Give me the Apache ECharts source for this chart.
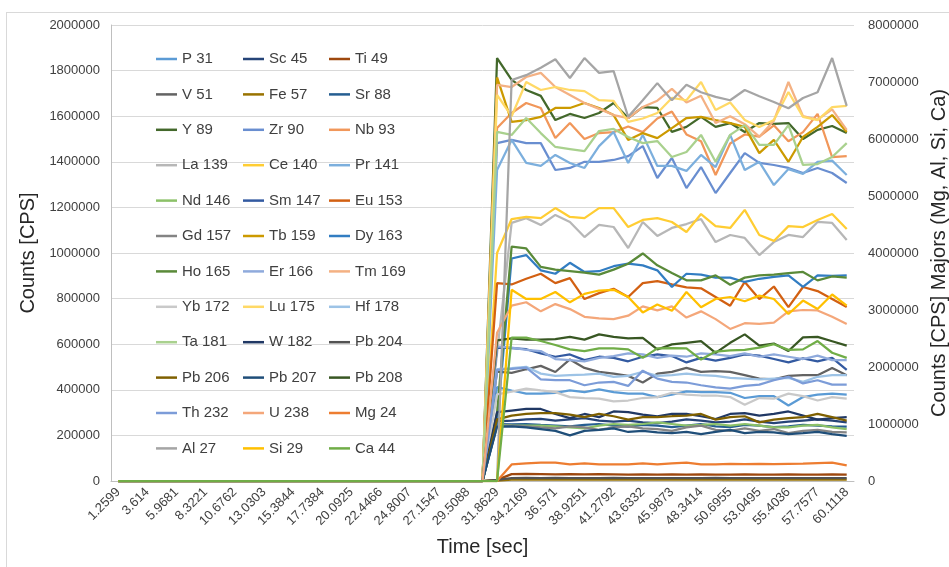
<!DOCTYPE html>
<html>
<head>
<meta charset="utf-8">
<title>Counts vs time</title>
<script src="https://cdn.jsdelivr.net/npm/echarts@6/dist/echarts.min.js"></script>
<style>
  html, body { margin: 0; padding: 0; background: #fff; }
  #wrap { position: relative; width: 949px; height: 567px; }
  #frame { position: absolute; left: 6px; top: 12px; right: -2px; bottom: -2px; border: 1px solid #d9d9d9; }
  #chart { position: absolute; left: 0; top: 0; width: 949px; height: 567px; }
</style>
</head>
<body>
<div id="wrap">
  <div id="frame"></div>
  <div id="chart"></div>
</div>
<script>
// time stamps (sec), one per acquisition
const times = ['1.2599','2.4369','3.614','4.791','5.9681','7.1451','8.3221','9.4992','10.6762','11.8532',
  '13.0303','14.2073','15.3844','16.5614','17.7384','18.9155','20.0925','21.2695','22.4466','23.6236',
  '24.8007','25.9777','27.1547','28.3318','29.5088','30.6858','31.8629','33.0399','34.2169','35.394',
  '36.571','37.7481','38.9251','40.1022','41.2792','42.4562','43.6332','44.8103','45.9873','47.1644',
  '48.3414','49.5185','50.6955','51.8725','53.0495','54.2266','55.4036','56.5807','57.7577','58.9348','60.1118']

// counts per isotope (CPS); first 26 points are gas blank
const p31 = [0,0,0,0,0,0,0,0,0,0,0,0,0,0,0,0,0,0,0,0,0,0,0,0,0,0,
  412000,397000,383000,383000,387000,397000,390000,402000,390000,383000,383000,368000,379000,393000,390000,390000,387000,364000,372000,372000,331000,368000,379000,383000,379000]
const sc45 = [0,0,0,0,0,0,0,0,0,0,0,0,0,0,0,0,0,0,0,0,0,0,0,0,0,0,
  262000,265000,270000,272000,265000,270000,276000,265000,260000,265000,257000,254000,260000,270000,265000,257000,260000,270000,260000,254000,260000,265000,270000,265000,257000]
const ti49 = [0,0,0,0,0,0,0,0,0,0,0,0,0,0,0,0,0,0,0,0,0,0,0,0,0,0,
  5000,30000,31000,30000,29000,30000,29000,30000,29000,28000,29000,28000,29000,28000,29000,28000,28000,29000,28000,28000,29000,28000,28000,29000,28000]
const v51 = [0,0,0,0,0,0,0,0,0,0,0,0,0,0,0,0,0,0,0,0,0,0,0,0,0,0,
  480000,474000,490000,505000,478000,533000,496000,479000,471000,461000,432000,471000,479000,496000,479000,482000,479000,464000,449000,446000,461000,464000,464000,496000,464000]
const fe57 = [0,0,0,0,0,0,0,0,0,0,0,0,0,0,0,0,0,0,0,0,0,0,0,0,0,0,
  2000,6000,6500,6000,6200,6000,5800,6100,6000,5900,6000,6200,6000,5800,6000,6100,5900,6000,6000,5800,6100,6000,5900,6000,5800]
const sr88 = [0,0,0,0,0,0,0,0,0,0,0,0,0,0,0,0,0,0,0,0,0,0,0,0,0,0,
  250000,248000,250000,246000,243000,240000,246000,250000,243000,238000,246000,243000,236000,243000,250000,240000,236000,246000,243000,236000,240000,246000,243000,240000,238000]
const y89 = [0,0,0,0,0,0,0,0,0,0,0,0,0,0,0,0,0,0,0,0,0,0,0,0,0,0,
  1855000,1759000,1715000,1689000,1583000,1610000,1592000,1614000,1658000,1592000,1640000,1636000,1531000,1553000,1597000,1553000,1570000,1531000,1570000,1566000,1570000,1500000,1540000,1557000,1526000]
const zr90 = [0,0,0,0,0,0,0,0,0,0,0,0,0,0,0,0,0,0,0,0,0,0,0,0,0,0,
  1482000,1496000,1482000,1482000,1364000,1373000,1400000,1400000,1408000,1425000,1469000,1329000,1417000,1285000,1377000,1263000,1351000,1438000,1395000,1386000,1373000,1351000,1373000,1351000,1307000]
const nb93 = [0,0,0,0,0,0,0,0,0,0,0,0,0,0,0,0,0,0,0,0,0,0,0,0,0,0,
  1548000,1614000,1658000,1636000,1504000,1570000,1500000,1526000,1530000,1555000,1530000,1590000,1620000,1520000,1490000,1342000,1480000,1520000,1510000,1560000,1490000,1530000,1610000,1420000,1425000]
const la139 = [0,0,0,0,0,0,0,0,0,0,0,0,0,0,0,0,0,0,0,0,0,0,0,0,0,0,
  560000,1132000,1153000,1123000,1167000,1136000,1070000,1123000,1114000,1022000,1136000,1075000,1110000,1127000,1149000,1048000,1079000,1066000,991000,1048000,1079000,1070000,1136000,1132000,1057000]
const ce140 = [0,0,0,0,0,0,0,0,0,0,0,0,0,0,0,0,0,0,0,0,0,0,0,0,0,0,
  1000000,1149000,1158000,1153000,1197000,1158000,1153000,1197000,1197000,1114000,1145000,1153000,1136000,1092000,1171000,1118000,1110000,1189000,1079000,1053000,1118000,1114000,1145000,1171000,1105000]
const pr141 = [0,0,0,0,0,0,0,0,0,0,0,0,0,0,0,0,0,0,0,0,0,0,0,0,0,0,
  1364000,1496000,1395000,1382000,1430000,1395000,1373000,1469000,1531000,1395000,1518000,1382000,1382000,1360000,1430000,1377000,1518000,1364000,1400000,1298000,1368000,1347000,1400000,1405000,1342000]
const nd146 = [0,0,0,0,0,0,0,0,0,0,0,0,0,0,0,0,0,0,0,0,0,0,0,0,0,0,
  246000,244000,243000,243000,240000,235000,231000,243000,250000,246000,250000,257000,250000,243000,246000,250000,243000,250000,243000,235000,235000,243000,246000,235000,228000]
const sm147 = [0,0,0,0,0,0,0,0,0,0,0,0,0,0,0,0,0,0,0,0,0,0,0,0,0,0,
  585000,583000,578000,560000,545000,555000,530000,545000,540000,525000,545000,555000,548000,520000,540000,528000,540000,555000,550000,535000,520000,538000,525000,540000,487000]
const eu153 = [0,0,0,0,0,0,0,0,0,0,0,0,0,0,0,0,0,0,0,0,0,0,0,0,0,0,
  868000,862000,887000,909000,868000,890000,798000,824000,843000,807000,868000,877000,862000,849000,845000,807000,769000,873000,798000,853000,763000,851000,833000,798000,763000]
const gd157 = [0,0,0,0,0,0,0,0,0,0,0,0,0,0,0,0,0,0,0,0,0,0,0,0,0,0,
  243000,243000,240000,235000,231000,240000,235000,224000,235000,240000,231000,228000,220000,235000,243000,224000,220000,231000,220000,228000,210000,220000,224000,215000,213000]
const tb159 = [0,0,0,0,0,0,0,0,0,0,0,0,0,0,0,0,0,0,0,0,0,0,0,0,0,0,
  1770000,1575000,1583000,1597000,1636000,1636000,1658000,1636000,1605000,1496000,1526000,1504000,1548000,1592000,1597000,1583000,1570000,1553000,1438000,1496000,1400000,1509000,1553000,1605000,1531000]
const dy163 = [0,0,0,0,0,0,0,0,0,0,0,0,0,0,0,0,0,0,0,0,0,0,0,0,0,0,
  250000,976000,991000,924000,909000,957000,917000,920000,942000,953000,946000,924000,851000,909000,905000,892000,892000,873000,887000,895000,902000,851000,902000,900000,902000]
const ho165 = [0,0,0,0,0,0,0,0,0,0,0,0,0,0,0,0,0,0,0,0,0,0,0,0,0,0,
  300000,1028000,1020000,939000,927000,921000,914000,905000,927000,953000,998000,946000,912000,880000,880000,902000,861000,892000,902000,905000,912000,917000,880000,897000,892000]
const er166 = [0,0,0,0,0,0,0,0,0,0,0,0,0,0,0,0,0,0,0,0,0,0,0,0,0,0,
  590000,585000,575000,570000,535000,530000,525000,540000,548000,560000,555000,540000,550000,545000,560000,555000,548000,560000,545000,555000,545000,535000,550000,530000,530000]
const tm169 = [0,0,0,0,0,0,0,0,0,0,0,0,0,0,0,0,0,0,0,0,0,0,0,0,0,0,
  1737000,1728000,1772000,1790000,1728000,1693000,1658000,1632000,1605000,1592000,1640000,1668000,1720000,1660000,1690000,1570000,1600000,1565000,1510000,1580000,1750000,1600000,1585000,1630000,1540000]
const yb172 = [0,0,0,0,0,0,0,0,0,0,0,0,0,0,0,0,0,0,0,0,0,0,0,0,0,0,
  380000,392000,405000,397000,390000,368000,364000,361000,349000,353000,364000,368000,387000,379000,375000,375000,368000,334000,364000,361000,383000,372000,353000,368000,361000]
const lu175 = [0,0,0,0,0,0,0,0,0,0,0,0,0,0,0,0,0,0,0,0,0,0,0,0,0,0,
  1693000,1600000,1750000,1715000,1728000,1715000,1710000,1670000,1667000,1575000,1590000,1614000,1680000,1670000,1750000,1627000,1660000,1583000,1553000,1583000,1706000,1597000,1583000,1640000,1645000]
const hf178 = [0,0,0,0,0,0,0,0,0,0,0,0,0,0,0,0,0,0,0,0,0,0,0,0,0,0,
  491000,495000,501000,471000,461000,464000,467000,471000,457000,461000,479000,461000,464000,471000,464000,461000,452000,449000,446000,449000,452000,435000,457000,464000,464000]
const ta181 = [0,0,0,0,0,0,0,0,0,0,0,0,0,0,0,0,0,0,0,0,0,0,0,0,0,0,
  1531000,1518000,1592000,1526000,1465000,1456000,1447000,1535000,1544000,1509000,1482000,1491000,1421000,1443000,1518000,1400000,1518000,1561000,1474000,1474000,1561000,1386000,1390000,1421000,1482000]
const w182 = [0,0,0,0,0,0,0,0,0,0,0,0,0,0,0,0,0,0,0,0,0,0,0,0,0,0,
  302000,309000,316000,316000,294000,276000,294000,280000,305000,302000,291000,284000,294000,294000,284000,272000,294000,298000,287000,294000,305000,287000,269000,276000,280000]
const pb204 = [0,0,0,0,0,0,0,0,0,0,0,0,0,0,0,0,0,0,0,0,0,0,0,0,0,0,
  5000,13000,14000,13000,13500,13000,12500,13000,13500,13000,12500,13000,13000,12500,13000,13500,13000,12500,13000,13000,12500,13000,13000,12500,13000]
const pb206 = [0,0,0,0,0,0,0,0,0,0,0,0,0,0,0,0,0,0,0,0,0,0,0,0,0,0,
  270000,287000,294000,298000,298000,291000,280000,294000,284000,269000,280000,280000,284000,287000,294000,269000,280000,284000,257000,269000,276000,280000,294000,280000,265000]
const pb207 = [0,0,0,0,0,0,0,0,0,0,0,0,0,0,0,0,0,0,0,0,0,0,0,0,0,0,
  238000,240000,235000,228000,220000,200000,220000,224000,231000,215000,220000,213000,210000,215000,206000,215000,224000,210000,215000,213000,206000,210000,215000,206000,198000]
const pb208 = [0,0,0,0,0,0,0,0,0,0,0,0,0,0,0,0,0,0,0,0,0,0,0,0,0,0,
  617000,626000,620000,620000,622000,632000,620000,643000,632000,626000,628000,577000,599000,606000,613000,562000,606000,643000,594000,603000,570000,630000,632000,613000,594000]
const th232 = [0,0,0,0,0,0,0,0,0,0,0,0,0,0,0,0,0,0,0,0,0,0,0,0,0,0,
  487000,492000,497000,446000,442000,442000,420000,432000,435000,417000,484000,449000,435000,432000,420000,411000,405000,417000,423000,442000,457000,428000,442000,423000,423000]
const u238 = [0,0,0,0,0,0,0,0,0,0,0,0,0,0,0,0,0,0,0,0,0,0,0,0,0,0,
  650000,769000,784000,744000,776000,754000,720000,713000,710000,725000,766000,748000,766000,717000,744000,710000,667000,692000,689000,695000,744000,750000,748000,720000,689000]
// majors, read on the right axis
const mg24 = [0,0,0,0,0,0,0,0,0,0,0,0,0,0,0,0,0,0,0,0,0,0,0,0,0,0,
  0,291000,309000,321000,321000,291000,309000,291000,291000,291000,309000,291000,309000,321000,291000,291000,300000,295000,300000,295000,300000,305000,315000,321000,274000]
const al27 = [0,0,0,0,0,0,0,0,0,0,0,0,0,0,0,0,0,0,0,0,0,0,0,0,0,0,
  0,7035000,7120000,7250000,7400000,7070000,7420000,7160000,7190000,6390000,6680000,6980000,6680000,6950000,6820000,6740000,6680000,6860000,6750000,6650000,6540000,6720000,6820000,7420000,6580000]
const si29 = [0,0,0,0,0,0,0,0,0,0,0,0,0,0,0,0,0,0,0,0,0,0,0,0,0,0,
  0,3354000,3193000,3193000,3316000,3135000,3283000,3342000,3354000,3228000,2958000,3095000,2988000,3316000,3047000,3193000,3228000,3153000,3253000,3193000,2930000,3165000,3018000,3272000,3076000]
const ca44 = [0,0,0,0,0,0,0,0,0,0,0,0,0,0,0,0,0,0,0,0,0,0,0,0,0,0,
  0,2516000,2516000,2456000,2386000,2309000,2280000,2326000,2326000,2309000,2161000,2326000,2330000,2326000,2130000,2270000,2290000,2300000,2340000,2400000,2300000,2309000,2456000,2250000,2161000]

// [name, data, colour, axis]
const isotopes = [
  ['P 31', p31, '#5B9BD5', 0], ['Sc 45', sc45, '#264478', 0], ['Ti 49', ti49, '#9E480E', 0],
  ['V 51', v51, '#636363', 0], ['Fe 57', fe57, '#997300', 0], ['Sr 88', sr88, '#255E91', 0],
  ['Y 89', y89, '#43682B', 0], ['Zr 90', zr90, '#698ED0', 0], ['Nb 93', nb93, '#F1975A', 0],
  ['La 139', la139, '#B7B7B7', 0], ['Ce 140', ce140, '#FFCD33', 0], ['Pr 141', pr141, '#7CAFDD', 0],
  ['Nd 146', nd146, '#8CC168', 0], ['Sm 147', sm147, '#335AA1', 0], ['Eu 153', eu153, '#D26012', 0],
  ['Gd 157', gd157, '#848484', 0], ['Tb 159', tb159, '#CC9A00', 0], ['Dy 163', dy163, '#327DC2', 0],
  ['Ho 165', ho165, '#5A8A39', 0], ['Er 166', er166, '#8FAADC', 0], ['Tm 169', tm169, '#F4B183', 0],
  ['Yb 172', yb172, '#C9C9C9', 0], ['Lu 175', lu175, '#FFD966', 0], ['Hf 178', hf178, '#9DC3E6', 0],
  ['Ta 181', ta181, '#A9D18E', 0], ['W 182', w182, '#203864', 0], ['Pb 204', pb204, '#525252', 0],
  ['Pb 206', pb206, '#7F6000', 0], ['Pb 207', pb207, '#1F4E79', 0], ['Pb 208', pb208, '#385723', 0],
  ['Th 232', th232, '#7C9CD8', 0], ['U 238', u238, '#F4A77A', 0], ['Mg 24', mg24, '#ED7D31', 1],
  ['Al 27', al27, '#A5A5A5', 1], ['Si 29', si29, '#FFC000', 1], ['Ca 44', ca44, '#70AD47', 1]
]

const font = "'Liberation Sans', Arial, sans-serif"
const textColor = '#404040'

// legend laid out in 3 columns like the spreadsheet one
const legendCols = [156, 243, 329].map((left, col) => ({
  orient: 'vertical',
  left: left,
  top: 50,
  padding: 0,
  icon: 'rect',
  itemWidth: 21,
  itemHeight: 2.5,
  itemGap: 17.4,
  selectedMode: false,
  textStyle: { fontFamily: font, fontSize: 15, color: textColor, lineHeight: 18 },
  data: isotopes.filter((d, i) => i % 3 === col).map(d => d[0])
}))

const plain = v => String(v)

const chart = echarts.init(document.getElementById('chart'))
chart.setOption({
  animation: false,
  textStyle: { fontFamily: font },
  grid: { left: 111, right: 95, top: 25, bottom: 86, outerBoundsMode: 'none' },
  legend: legendCols,
  xAxis: {
    type: 'category',
    data: times,
    boundaryGap: true,
    name: 'Time [sec]',
    nameLocation: 'middle',
    nameGap: 56,
    nameTextStyle: { fontSize: 20, color: '#262626', fontFamily: font },
    axisLine: { lineStyle: { color: '#BFBFBF', width: 1 } },
    axisTick: { show: false },
    axisLabel: { interval: 1, rotate: 45, fontSize: 13, color: textColor, margin: 9, fontFamily: font },
    splitLine: { show: false }
  },
  yAxis: [
    {
      type: 'value',
      min: 0, max: 2000000, interval: 200000,
      name: 'Counts [CPS]',
      nameLocation: 'middle',
      nameRotate: 90,
      nameGap: 68,
      nameTextStyle: { fontSize: 20, color: '#262626', fontFamily: font },
      axisLine: { show: true, lineStyle: { color: '#BFBFBF', width: 1 } },
      axisTick: { show: false },
      axisLabel: { fontSize: 13, color: textColor, margin: 11, fontFamily: font, formatter: plain },
      splitLine: { lineStyle: { color: '#D9D9D9', width: 1 } }
    },
    {
      type: 'value',
      position: 'right',
      min: 0, max: 8000000, interval: 1000000,
      name: 'Counts [CPS] Majors (Mg, Al, Si, Ca)',
      nameLocation: 'middle',
      nameRotate: 90,
      nameGap: 71,
      nameTextStyle: { fontSize: 20, color: '#262626', fontFamily: font },
      axisLine: { show: false },
      axisTick: { show: false },
      axisLabel: { fontSize: 13, color: textColor, margin: 14, fontFamily: font, formatter: plain },
      splitLine: { show: false }
    }
  ],
  series: isotopes.map(([name, data, color, axis]) => ({
    name: name,
    type: 'line',
    yAxisIndex: axis,
    data: data,
    symbol: 'none',
    color: color,
    lineStyle: { color: color, width: 2.25 }
  }))
})
</script>
</body>
</html>
